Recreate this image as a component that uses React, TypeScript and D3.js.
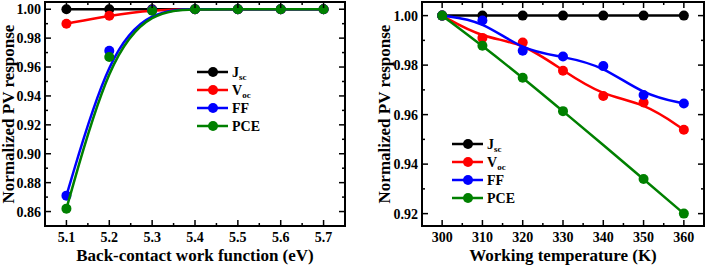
import * as d3 from 'd3';

// left panel: back-contact work function
const workFunction = [5.1, 5.2, 5.3, 5.4, 5.5, 5.6, 5.7];
const wfJsc = [1, 1, 1, 1, 1, 1, 1];
const wfVoc = [0.990, 0.9955, 0.9995, 1, 1, 1, 1];
const wfFF = [0.871, 0.9712, 0.9995, 1, 1, 1, 1];
const wfPCE = [0.862, 0.967, 0.999, 1, 1, 1, 1];

// right panel: working temperature
const temperature = [300, 310, 320, 330, 340, 350, 360];
const tJsc = [1, 1, 1, 1, 1, 1, 1];
const tVoc = [1, 0.991, 0.9891, 0.9777, 0.9675, 0.9649, 0.9539];
const tFF = [1, 0.998, 0.9858, 0.9835, 0.9796, 0.9679, 0.9645];
const tempPCE = [300, 310, 320, 330, 350, 360];
const tPCE = [1, 0.9878, 0.9749, 0.9614, 0.934, 0.920];

const seriesNames = ['Jsc', 'Voc', 'FF', 'PCE'];
const colors = ['#000000', '#ff0000', '#0000ff', '#008000'];

const serif = { fontFamily: 'Liberation Serif', fontWeight: 'bold' as const };

type Series = { xs: number[]; ys: number[] };

type PanelProps = {
  left: number; right: number; top: number; bottom: number;
  xDomain: [number, number]; yDomain: [number, number];
  xMajor: number[]; xMinor: number[]; yMajor: number[]; yMinor: number[];
  xFmt: (v: number) => string; yFmt: (v: number) => string;
  series: Series[];
  xTitle: string;
  yTitleX: number;
  legendX: number; legendY: number;
};

const Label = ({ name }: { name: string }) => {
  if (name === 'Jsc' || name === 'Voc') {
    return (
      <>
        {name[0]}
        <tspan fontSize={9} dy={3}>{name.slice(1)}</tspan>
      </>
    );
  }
  return <>{name}</>;
};

const Panel = (p: PanelProps) => {
  const x = d3.scaleLinear().domain(p.xDomain).range([p.left, p.right]);
  const y = d3.scaleLinear().domain(p.yDomain).range([p.bottom, p.top]);
  const line = d3.line<[number, number]>()
    .x(d => x(d[0]))
    .y(d => y(d[1]))
    .curve(d3.curveBasis);
  const major = 6;
  const minor = 3;
  const cx = (p.left + p.right) / 2;
  const cy = (p.top + p.bottom) / 2;

  return (
    <g>
      {p.series.map((s, i) => {
        const pts = s.xs.map((v, j) => [v, s.ys[j]] as [number, number]);
        return (
          <g key={i}>
            <path d={line(pts) || ''} fill="none" stroke={colors[i]} strokeWidth={2.5} />
            {pts.map((d, j) => (
              <circle key={j} cx={x(d[0])} cy={y(d[1])} r={5} fill={colors[i]} />
            ))}
          </g>
        );
      })}

      <rect x={p.left} y={p.top} width={p.right - p.left} height={p.bottom - p.top}
        fill="none" stroke="#000" strokeWidth={2} />

      <g stroke="#000" strokeWidth={1.5}>
        {p.xMajor.map(v => (
          <g key={'xM' + v}>
            <line x1={x(v)} x2={x(v)} y1={p.bottom} y2={p.bottom - major} />
            <line x1={x(v)} x2={x(v)} y1={p.top} y2={p.top + major} />
          </g>
        ))}
        {p.xMinor.map(v => (
          <g key={'xm' + v}>
            <line x1={x(v)} x2={x(v)} y1={p.bottom} y2={p.bottom - minor} />
            <line x1={x(v)} x2={x(v)} y1={p.top} y2={p.top + minor} />
          </g>
        ))}
        {p.yMajor.map(v => (
          <g key={'yM' + v}>
            <line x1={p.left} x2={p.left + major} y1={y(v)} y2={y(v)} />
            <line x1={p.right} x2={p.right - major} y1={y(v)} y2={y(v)} />
          </g>
        ))}
        {p.yMinor.map(v => (
          <g key={'ym' + v}>
            <line x1={p.left} x2={p.left + minor} y1={y(v)} y2={y(v)} />
            <line x1={p.right} x2={p.right - minor} y1={y(v)} y2={y(v)} />
          </g>
        ))}
      </g>

      <g style={serif} fontSize={14} fill="#000">
        {p.xMajor.map(v => (
          <text key={'xt' + v} x={x(v)} y={p.bottom + 16} textAnchor="middle">{p.xFmt(v)}</text>
        ))}
        {p.yMajor.map(v => (
          <text key={'yt' + v} x={p.left - 4} y={y(v) + 5} textAnchor="end">{p.yFmt(v)}</text>
        ))}
      </g>

      <text x={cx} y={p.bottom + 35} textAnchor="middle" style={serif} fontSize={17}>{p.xTitle}</text>
      <text transform={`translate(${p.yTitleX},${cy}) rotate(-90)`} textAnchor="middle"
        style={serif} fontSize={17}>Normalized PV response</text>

      <g>
        {seriesNames.map((n, i) => {
          const ly = p.legendY + i * 18;
          return (
            <g key={n}>
              <line x1={p.legendX} x2={p.legendX + 31} y1={ly} y2={ly} stroke={colors[i]} strokeWidth={2.5} />
              <circle cx={p.legendX + 16} cy={ly} r={5} fill={colors[i]} />
              <text x={p.legendX + 35} y={ly + 5} style={serif} fontSize={14}>
                <Label name={n} />
              </text>
            </g>
          );
        })}
      </g>
    </g>
  );
};

const range = (a: number, b: number, step: number) =>
  d3.range(Math.round((b - a) / step) + 1).map(i => +(a + i * step).toFixed(4));

export default function App() {
  return (
    <svg width={709} height={266} style={{ position: 'absolute', left: 0, top: 0, background: '#fff' }}>
      <Panel
        left={45} right={345} top={2} bottom={226}
        xDomain={[5.05, 5.75]} yDomain={[0.85, 1.005]}
        xMajor={workFunction} xMinor={range(5.15, 5.65, 0.1)}
        yMajor={range(0.86, 1.0, 0.02)} yMinor={range(0.87, 0.99, 0.02)}
        xFmt={d3.format('.1f')} yFmt={d3.format('.2f')}
        series={[
          { xs: workFunction, ys: wfJsc },
          { xs: workFunction, ys: wfVoc },
          { xs: workFunction, ys: wfFF },
          { xs: workFunction, ys: wfPCE },
        ]}
        xTitle="Back-contact work function (eV)"
        yTitleX={14}
        legendX={197} legendY={72}
      />
      <Panel
        left={422} right={704} top={2} bottom={226}
        xDomain={[295, 365]} yDomain={[0.915, 1.0055]}
        xMajor={temperature} xMinor={range(305, 355, 10)}
        yMajor={range(0.92, 1.0, 0.02)} yMinor={range(0.93, 0.99, 0.02)}
        xFmt={d3.format('d')} yFmt={d3.format('.2f')}
        series={[
          { xs: temperature, ys: tJsc },
          { xs: temperature, ys: tVoc },
          { xs: temperature, ys: tFF },
          { xs: tempPCE, ys: tPCE },
        ]}
        xTitle="Working temperature (K)"
        yTitleX={390}
        legendX={452} legendY={144}
      />
    </svg>
  );
}
